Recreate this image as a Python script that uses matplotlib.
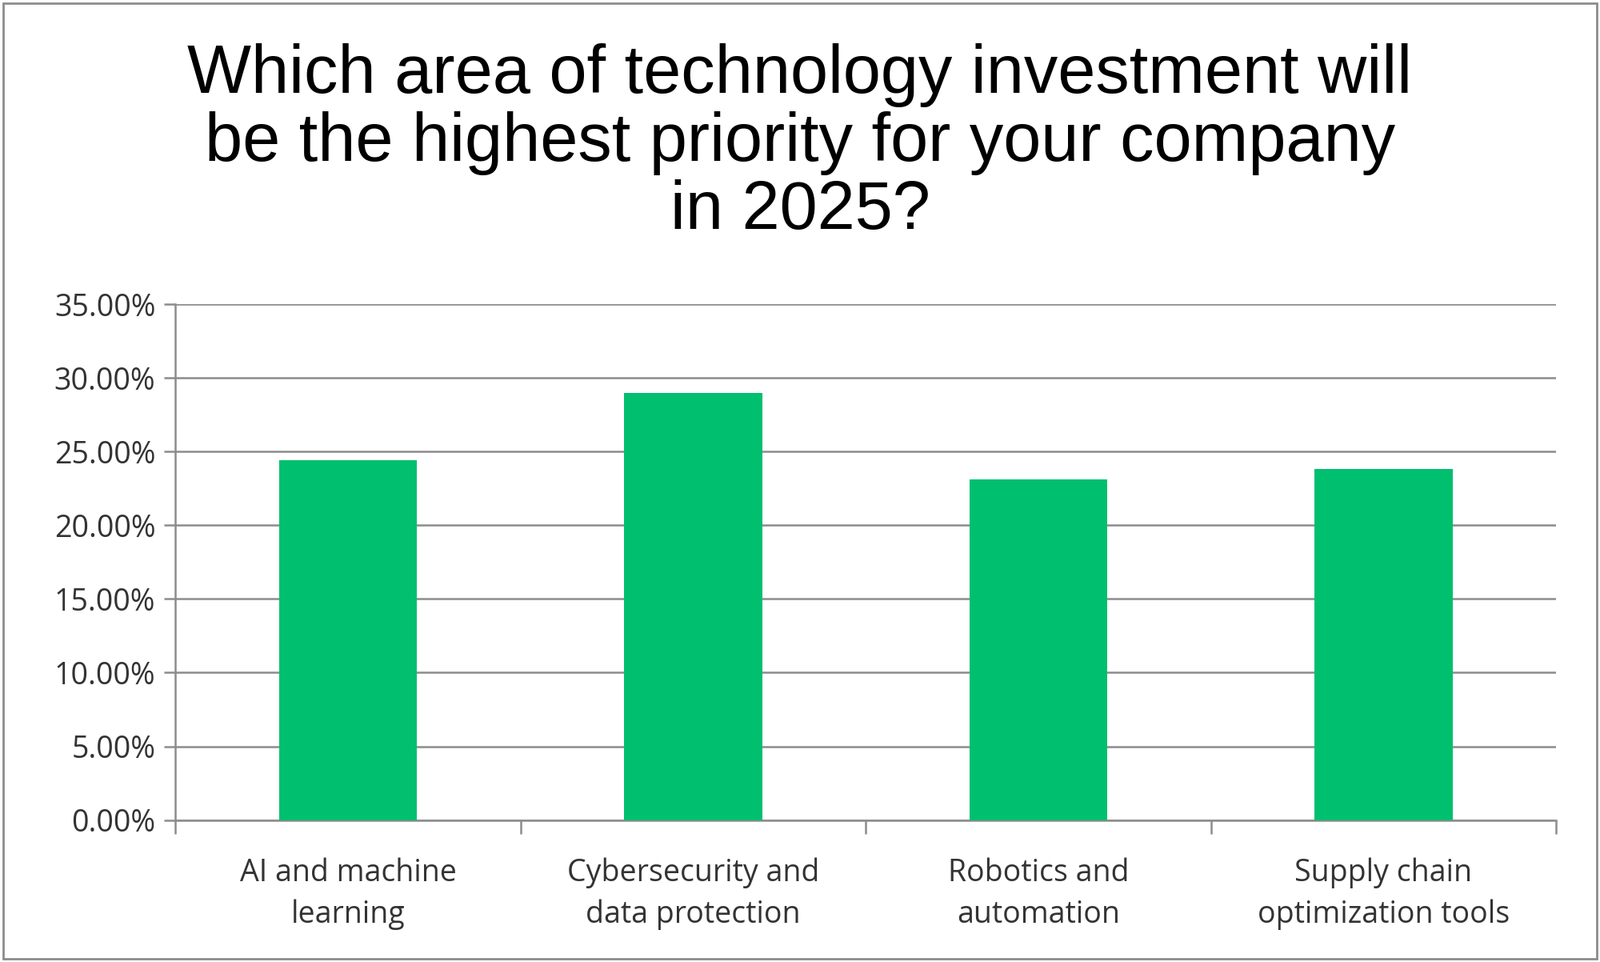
import matplotlib
matplotlib.use("Agg")
import matplotlib.pyplot as plt
from matplotlib.patches import Rectangle

categories = ["AI and machine\nlearning", "Cybersecurity and\ndata protection",
              "Robotics and\nautomation", "Supply chain\noptimization tools"]
values = [24.4, 29.0, 23.1, 23.8]
yticks = [0, 5, 10, 15, 20, 25, 30, 35]

fig = plt.figure(figsize=(20, 12.02), dpi=100)
ax = fig.add_axes([0.1097, 0.1476, 0.8629, 0.5361])
x = list(range(len(categories)))
ax.bar(x, values, width=0.4, color="#00BF6F", zorder=3)
ax.set_xlim(-0.5, len(categories) - 0.5)
ax.set_ylim(0, 35)
ax.set_yticks(yticks)
ax.set_yticklabels([f"{v:.2f}%" for v in yticks], fontsize=27, fontfamily="Open Sans", color="#333333")
ax.yaxis.grid(True, color="#8c8c8c", linewidth=1.8, zorder=0)
ax.set_xticks(x)
ax.set_xticklabels(categories, fontsize=27, fontfamily="Open Sans", color="#333333", linespacing=1.45)
ax.set_xticks([i + 0.5 for i in range(-1, len(categories))], minor=True)
ax.tick_params(axis="x", which="major", length=0, pad=34)
ax.tick_params(axis="x", which="minor", length=12, width=1.8, color="#8c8c8c", direction="out")
ax.tick_params(axis="y", length=10, width=1.8, color="#8c8c8c", pad=8)
for s in ["top", "right"]:
    ax.spines[s].set_visible(False)
for s in ["left", "bottom"]:
    ax.spines[s].set_color("#8c8c8c")
    ax.spines[s].set_linewidth(1.8)

fig.text(0.5, 0.955, "Which area of technology investment will\nbe the highest priority for your company\nin 2025?",
         ha="center", va="top", fontsize=61, fontfamily="Liberation Sans", linespacing=1.08)
fig.patches.append(Rectangle((0.002, 0.003), 0.996, 0.994, transform=fig.transFigure,
                             fill=False, edgecolor="#8c8c8c", linewidth=2))
fig.savefig("out.png", dpi=100, facecolor="white")
